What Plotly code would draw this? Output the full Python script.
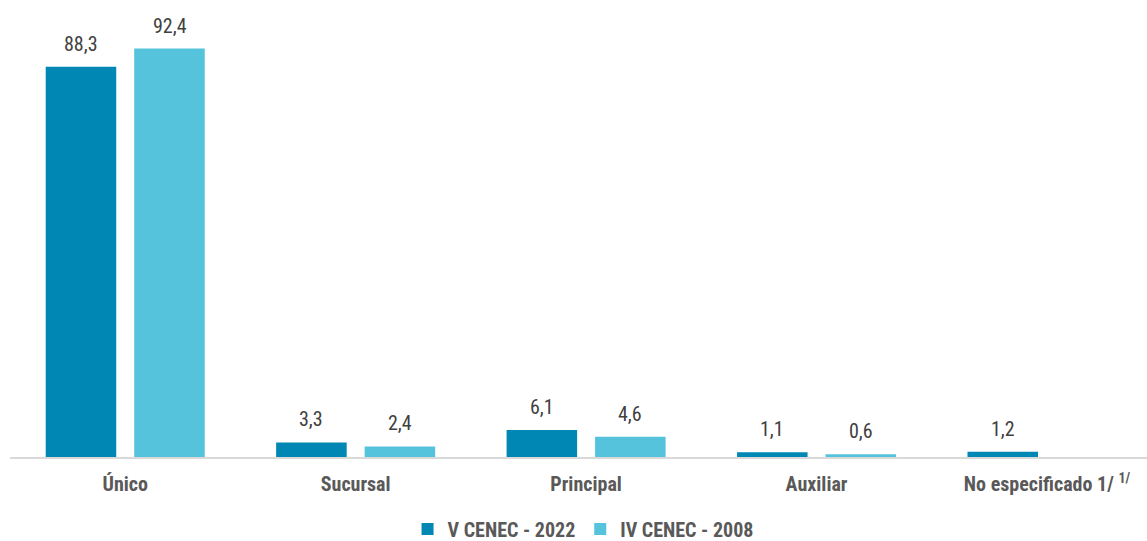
import plotly.graph_objects as go

categories = ["Único", "Sucursal", "Principal", "Auxiliar", "No especificado 1/ <sup>1/</sup>"]
v2022 = [88.3, 3.3, 6.1, 1.1, 1.2]
v2008 = [92.4, 2.4, 4.6, 0.6, None]
series_names = ["V CENEC - 2022", "IV CENEC - 2008"]
colors = ["#0087B4", "#55C3DC"]

FONT = "Liberation Sans Narrow, Arial Narrow, Roboto Condensed, Liberation Sans, sans-serif"

def fmt(v):
    return f"{v:.1f}".replace(".", ",")

fig = go.Figure()
for name, vals, col in zip(series_names, [v2022, v2008], colors):
    fig.add_trace(go.Bar(
        x=categories, y=vals, name=name,
        marker=dict(color=col, line=dict(width=0)),
        cliponaxis=False,
    ))

# value labels above bars
shifts = [-44.3, 44.3]
for vals, sh in zip([v2022, v2008], shifts):
    for cat, v in zip(categories, vals):
        if v is None:
            continue
        fig.add_annotation(
            x=cat, y=v, xref="x", yref="y", text=fmt(v), showarrow=False,
            yanchor="bottom", xanchor="center", xshift=sh, yshift=9,
            font=dict(family=FONT, size=20, color="#404040"),
        )

fig.update_layout(
    width=1147, height=541,
    margin=dict(l=10, r=0, t=15, b=84),
    paper_bgcolor="white", plot_bgcolor="white",
    barmode="group", bargap=0.232, bargroupgap=0.203,
    font=dict(family=FONT, color="#595959"),
    showlegend=True,
    legend=dict(orientation="h", x=0.504, xanchor="center",
                yref="container", y=0.022, yanchor="middle",
                font=dict(family=FONT, size=20, color="#595959", weight="bold"),
                itemwidth=30, traceorder="normal"),
)
fig.update_xaxes(
    type="category", range=[-0.5, 4.434], automargin=False,
    showline=True, linecolor="#D9D9D9", linewidth=2,
    showgrid=False, ticks="", ticklabelstandoff=8,
    tickfont=dict(family=FONT, size=20, color="#595959", weight="bold"),
)
fig.update_yaxes(range=[0, 100], visible=False, showgrid=False, zeroline=False, automargin=False)

fig.write_html("out.html", config={"displayModeBar": False},
               post_script="document.body.style.margin='0';")
